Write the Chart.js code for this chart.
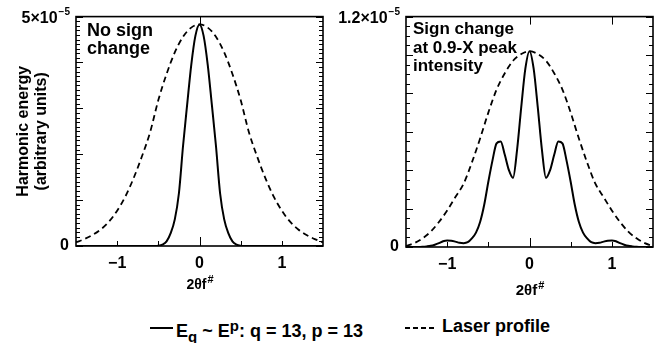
<!DOCTYPE html>
<html>
<head>
<meta charset="utf-8">
<script src="https://cdn.jsdelivr.net/npm/chart.js@4.4.1/dist/chart.umd.min.js"></script>
<style>
  html, body { margin: 0; padding: 0; background: #fff; }
  #wrap { position: relative; width: 662px; height: 343px; overflow: hidden; font-family: "Liberation Sans", Arial, sans-serif; }
  canvas { position: absolute; top: 0; }
  #leftChart { left: 0; }
  #rightChart { left: 331px; }
  .lg { position: absolute; top: 315px; font-weight: bold; font-size: 18px; color: #000; white-space: nowrap; line-height: 22px; }
  .lg sub { font-size: 15px; vertical-align: -5px; }
  .lg sup { font-size: 15px; vertical-align: 6px; }
  .sample { position: absolute; top: 326px; }
</style>
</head>
<body>
<div id="wrap">
  <canvas id="leftChart" width="331" height="305"></canvas>
  <canvas id="rightChart" width="331" height="305"></canvas>
  <svg class="sample" style="left:150px" width="24" height="4"><line x1="0" y1="2" x2="23" y2="2" stroke="#000" stroke-width="2"/></svg>
  <div class="lg" style="left:176px">E<sub>q</sub> ~ E<sup>p</sup>: q = 13, p = 13</div>
  <svg class="sample" style="left:405px" width="32" height="4"><line x1="0" y1="2" x2="31" y2="2" stroke="#000" stroke-width="1.8" stroke-dasharray="5 3"/></svg>
  <div class="lg" style="left:442px">Laser profile</div>
</div>
<script>
// x grids (2θf#)
const xFine = [-1.5, -1.45, -1.4, -1.35, -1.3, -1.25, -1.2, -1.15, -1.1, -1.05,
  -1.0, -0.95, -0.9, -0.85, -0.8, -0.75, -0.7, -0.65, -0.6, -0.55,
  -0.5, -0.45, -0.4, -0.35, -0.3, -0.25, -0.2, -0.15, -0.1, -0.05,
  0,
  0.05, 0.1, 0.15, 0.2, 0.25, 0.3, 0.35, 0.4, 0.45, 0.5,
  0.55, 0.6, 0.65, 0.7, 0.75, 0.8, 0.85, 0.9, 0.95, 1.0,
  1.05, 1.1, 1.15, 1.2, 1.25, 1.3, 1.35, 1.4, 1.45, 1.5];
const xCoarse = [-1.5, -1.4, -1.3, -1.2, -1.1, -1.0, -0.9, -0.8, -0.7, -0.6, -0.5, -0.4, -0.3, -0.2, -0.1,
  0, 0.1, 0.2, 0.3, 0.4, 0.5, 0.6, 0.7, 0.8, 0.9, 1.0, 1.1, 1.2, 1.3, 1.4, 1.5];

// harmonic energy, units of 1e-5
const leftHarmonic = [0, 0, 0, 0, 0, 0, 0, 0, 0, 0,
  0, 0, 0, 0, 0, 0, 0, 0, 0, 0,
  0.005, 0.03, 0.10, 0.28, 0.58, 1.15, 2.18, 3.08, 3.95, 4.58,
  4.83,
  4.58, 3.95, 3.08, 2.18, 1.15, 0.58, 0.28, 0.10, 0.03, 0.005,
  0, 0, 0, 0, 0, 0, 0, 0, 0, 0,
  0, 0, 0, 0, 0, 0, 0, 0, 0, 0];
const leftLaser = [0.08, 0.15, 0.24, 0.36, 0.53, 0.77, 1.08, 1.48, 1.95, 2.48, 3.18, 3.75, 4.22, 4.56, 4.76,
  4.83, 4.76, 4.56, 4.22, 3.75, 3.18, 2.48, 1.95, 1.48, 1.08, 0.77, 0.53, 0.36, 0.24, 0.15, 0.08];

const rightHarmonic = [0, 0, 0, 0, 0.001, 0.003, 0.006, 0.012, 0.02, 0.03,
  0.034, 0.033, 0.028, 0.022, 0.02, 0.025, 0.045, 0.075, 0.13, 0.22,
  0.34, 0.45, 0.54, 0.55, 0.48, 0.40, 0.36, 0.51, 0.73, 0.93,
  1.02,
  0.93, 0.73, 0.51, 0.36, 0.40, 0.48, 0.55, 0.54, 0.45, 0.34,
  0.22, 0.13, 0.075, 0.045, 0.025, 0.02, 0.022, 0.028, 0.033, 0.034,
  0.03, 0.02, 0.012, 0.006, 0.003, 0.001, 0, 0, 0, 0];
const rightLaser = [0.005, 0.02, 0.045, 0.08, 0.13, 0.19, 0.26, 0.33, 0.44, 0.565, 0.70, 0.82, 0.905, 0.97, 1.005,
  1.02, 1.005, 0.97, 0.905, 0.82, 0.70, 0.565, 0.44, 0.33, 0.26, 0.19, 0.13, 0.08, 0.045, 0.02, 0.005];

const xTickLabels = { '-1': '\u22121', '0': '0', '1': '1' };
const bottomTicks = [-1, -0.5, 0, 0.5, 1];

const FONT = '"Liberation Sans", Arial, sans-serif';

const frameTicks = {
  id: 'frameTicks',
  afterDatasetsDraw(chart, args, o) {
    const { ctx, chartArea: a, scales: { x, y } } = chart;
    ctx.save();
    ctx.strokeStyle = '#000';
    ctx.fillStyle = '#000';
    ctx.lineWidth = 1;
    const seg = (x1, y1, x2, y2) => { ctx.beginPath(); ctx.moveTo(x1, y1); ctx.lineTo(x2, y2); ctx.stroke(); };

    // y ticks on both sides
    const n = Math.round(o.yMax / o.yMinor);
    const per = Math.round(o.yMajor / o.yMinor);
    for (let i = 0; i <= n; i++) {
      const py = Math.round(y.getPixelForValue(i * o.yMinor)) + 0.5;
      const len = i % per === 0 ? 7 : 4;
      seg(a.left, py, a.left + len, py);
      seg(a.right, py, a.right - len, py);
    }
    // x ticks
    bottomTicks.forEach(v => {
      const px = Math.round(x.getPixelForValue(v)) + 0.5;
      seg(px, a.bottom, px, a.bottom - (v === 0 ? 9 : 5));
    });
    o.topTicks.forEach(v => {
      const px = Math.round(x.getPixelForValue(v)) + 0.5;
      seg(px, a.top, px, a.top + 8);
    });

    ctx.lineWidth = 1.6;
    ctx.strokeRect(a.left, a.top, a.width, a.height);

    // top y label with exponent
    ctx.textBaseline = 'alphabetic';
    ctx.font = 'bold 10px ' + FONT;
    const expW = ctx.measureText(o.topLabel[1]).width;
    const ty = y.getPixelForValue(o.yMax) + 6;
    ctx.textAlign = 'right';
    ctx.fillText(o.topLabel[1], a.left - 6, ty - 8);
    ctx.font = 'bold 16px ' + FONT;
    ctx.fillText(o.topLabel[0], a.left - 7 - expW, ty);

    // x title 2θf#
    const cx = x.getPixelForValue(0);
    ctx.font = 'bold ' + o.xTitleSize + 'px ' + FONT;
    const w = ctx.measureText('2\u03b8f').width;
    ctx.textAlign = 'left';
    ctx.fillText('2\u03b8f', cx - w / 2 - 3, o.xTitleY);
    ctx.font = 'bold ' + Math.round(o.xTitleSize * 0.75) + 'px ' + FONT;
    ctx.fillText('#', cx + w / 2 - 2, o.xTitleY - 6);

    // panel note
    ctx.font = 'bold ' + o.noteSize + 'px ' + FONT;
    o.notes.forEach((t, i) => ctx.fillText(t, o.noteX, o.noteY + i * o.noteLH));
    ctx.restore();
  }
};

function makePanel(id, harmonic, laser, yMax, yStep, pad, yWidth, xHeight, frameOpts, yTitle) {
  const tickFont = { family: FONT, size: 16, weight: 'bold' };
  new Chart(document.getElementById(id), {
    type: 'line',
    data: {
      datasets: [
        {
          data: xFine.map((v, i) => ({ x: v, y: harmonic[i] })),
          borderColor: '#000', borderWidth: 2, pointRadius: 0,
          cubicInterpolationMode: 'monotone', fill: false
        },
        {
          data: xCoarse.map((v, i) => ({ x: v, y: laser[i] })),
          borderColor: '#000', borderWidth: 1.8, borderDash: [6, 4], pointRadius: 0,
          cubicInterpolationMode: 'monotone', fill: false
        }
      ]
    },
    options: {
      responsive: false,
      animation: false,
      devicePixelRatio: 1,
      layout: { padding: pad },
      plugins: { legend: { display: false }, tooltip: { enabled: false }, frameTicks: frameOpts },
      scales: {
        x: {
          type: 'linear', min: -1.5, max: 1.5,
          afterFit: s => { s.height = xHeight; },
          grid: { display: false, drawTicks: false },
          border: { display: false },
          ticks: {
            stepSize: 0.5, autoSkip: false, maxRotation: 0, padding: 8, color: '#000', font: tickFont,
            callback: v => xTickLabels[String(v)] || ''
          }
        },
        y: {
          min: 0, max: yMax,
          afterFit: s => { s.width = yWidth; },
          grid: { display: false, drawTicks: false },
          border: { display: false },
          ticks: {
            stepSize: yStep, autoSkip: false, padding: 7, color: '#000', font: tickFont,
            callback: v => (v === 0 ? '0' : '')
          },
          title: yTitle ? {
            display: true, text: yTitle, color: '#000',
            font: { family: FONT, size: 16, weight: 'bold', lineHeight: 1.1 },
            padding: { top: 7, bottom: 0 }
          } : { display: false }
        }
      }
    },
    plugins: [frameTicks]
  });
}

makePanel('leftChart', leftHarmonic, leftLaser, 5, 1,
  { left: 8, top: 14, right: 7, bottom: 0 }, 68, 59,
  { yMax: 5, yMajor: 1, yMinor: 0.1, topTicks: [0], topLabel: ['5\u00d710', '\u22125'],
    notes: ['No sign', 'change'], noteX: 87, noteY: 36, noteLH: 18, noteSize: 18, xTitleY: 289, xTitleSize: 14 },
  ['Harmonic energy', '(arbitrary units)']);

makePanel('rightChart', rightHarmonic, rightLaser, 1.2, 0.2,
  { left: 8, top: 16, right: 9, bottom: 0 }, 67, 58,
  { yMax: 1.2, yMajor: 0.2, yMinor: 0.05, topTicks: [0, 1], topLabel: ['1.2\u00d710', '\u22125'],
    notes: ['Sign change', 'at 0.9-X peak', 'intensity'], noteX: 82, noteY: 34, noteLH: 18.5, noteSize: 17, xTitleY: 295, xTitleSize: 15 },
  null);
</script>
</body>
</html>
